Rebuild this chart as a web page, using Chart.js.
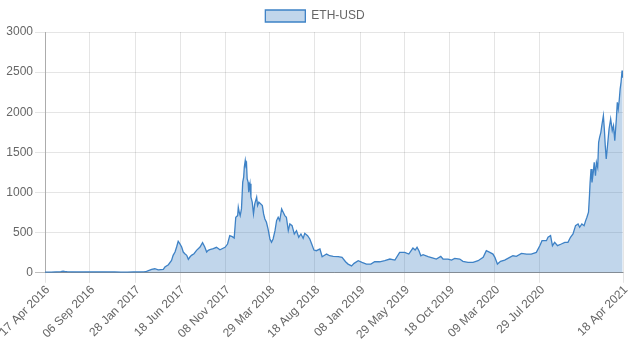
<!DOCTYPE html>
<html lang="en">
<head>
  <meta charset="UTF-8" />
  <title>ETH-USD</title>
  <script src="https://cdn.jsdelivr.net/npm/chart.js"></script>
  <style>
    html, body { margin: 0; padding: 0; background: #fff; }
    #wrap { width: 630px; height: 354px; }
  </style>
</head>
<body>
  <div id="wrap"><canvas id="ethChart"></canvas></div>

  <script>
    // day offsets from 17 Apr 2016 and closing price
    const startDate = '2016-04-17';
    const dayOffsets = [
      0, 20, 35, 50, 57, 62, 70, 85, 100, 120, 140, 160, 180, 200, 220, 240, 260, 280, 300, 315,
      321, 337, 347, 358, 374, 379, 390, 400, 405, 411, 416, 421, 426, 432, 437, 442, 448, 453, 458, 463,
      471, 479, 490, 498, 505, 511, 516, 521, 532, 542, 553, 569, 577, 584, 592, 598, 603, 609, 611, 614,
      617, 621, 625, 628, 630, 633, 635, 637, 639, 642, 644, 648, 651, 655, 659, 663, 669, 672, 676, 682,
      687, 691, 695, 700, 705, 711, 716, 721, 727, 732, 737, 742, 748, 753, 758, 763, 769, 774, 781, 788,
      795, 802, 809, 816, 821, 830, 837, 843, 850, 858, 869, 876, 890, 900, 911, 927, 939, 950, 958, 969,
      977, 990, 1002, 1016, 1030, 1042, 1058, 1074, 1090, 1106, 1121, 1137, 1150, 1163, 1170, 1176, 1182, 1188, 1195, 1211,
      1227, 1237, 1251, 1258, 1274, 1285, 1295, 1311, 1321, 1337, 1353, 1369, 1385, 1395, 1406, 1416, 1422, 1430, 1440, 1453,
      1469, 1479, 1490, 1506, 1522, 1537, 1553, 1564, 1571, 1585, 1590, 1598, 1604, 1611, 1620, 1632, 1643, 1653, 1661, 1669,
      1677, 1685, 1690, 1697, 1704, 1709, 1713, 1718, 1721, 1723, 1726, 1729, 1733, 1736, 1740, 1743, 1747, 1750, 1753, 1757,
      1760, 1765, 1768, 1771, 1774, 1778, 1783, 1788, 1793, 1797, 1801, 1806, 1809, 1812, 1815, 1818, 1821, 1824, 1826
    ];
    const prices = [
      8, 9, 12, 14, 20, 16, 13, 12, 11, 11, 12, 12, 12, 11, 10, 8, 8, 10, 11, 13,
      17, 42, 50, 37, 42, 71, 100, 154, 217, 258, 321, 392, 362, 321, 258, 237, 217, 167, 196, 217,
      237, 279, 321, 375, 321, 258, 279, 287, 300, 317, 287, 317, 358, 462, 450, 433, 692, 712, 817, 754,
      712, 796, 1129, 1192, 1317, 1400, 1337, 1358, 1171, 1129, 1004, 1108, 942, 879, 733, 858, 942, 837, 879, 858,
      837, 733, 671, 629, 546, 421, 379, 421, 525, 650, 692, 650, 796, 754, 712, 692, 525, 608, 587, 483,
      525, 442, 483, 429, 492, 462, 421, 358, 283, 275, 296, 200, 233, 212, 204, 200, 192, 137, 108, 85,
      117, 150, 129, 108, 108, 137, 137, 150, 171, 158, 254, 254, 233, 308, 283, 317, 275, 212, 225, 200,
      183, 171, 204, 171, 171, 158, 179, 171, 142, 129, 129, 150, 192, 275, 254, 233, 192, 108, 142, 158,
      192, 212, 204, 242, 233, 233, 254, 337, 400, 400, 442, 462, 337, 379, 337, 358, 379, 379, 442, 483,
      587, 608, 567, 608, 587, 650, 692, 754, 958, 1125, 1292, 1125, 1250, 1375, 1208, 1375, 1312, 1625, 1687, 1750,
      1833, 1958, 1792, 1583, 1417, 1583, 1792, 1917, 1771, 1833, 1646, 1917, 2125, 2042, 2146, 2292, 2380, 2520, 2430
    ];
    const tickLabels = [
      '17 Apr 2016', '06 Sep 2016', '28 Jan 2017', '18 Jun 2017', '08 Nov 2017', '29 Mar 2018', '18 Aug 2018',
      '08 Jan 2019', '29 May 2019', '18 Oct 2019', '09 Mar 2020', '29 Jul 2020', '18 Apr 2021'
    ];

    const dayMs = 86400000;
    const t0 = Date.parse(startDate + 'T00:00:00Z');
    const tickDays = tickLabels.map(s => Math.round((Date.parse(s + ' UTC') - t0) / dayMs));
    const labelFor = {};
    tickDays.forEach((d, i) => { labelFor[d] = tickLabels[i]; });

    const points = dayOffsets.map((d, i) => ({ x: d, y: prices[i] }));

    Chart.defaults.font.family = "'Liberation Sans', Arial, sans-serif";
    Chart.defaults.font.size = 12;
    Chart.defaults.color = '#666';

    new Chart(document.getElementById('ethChart'), {
      type: 'line',
      data: {
        datasets: [{
          label: 'ETH-USD',
          data: points,
          borderColor: 'rgb(62,130,198)',
          backgroundColor: 'rgba(50,120,190,0.3)',
          borderWidth: 1.3,
          pointRadius: 0,
          tension: 0,
          fill: 'origin'
        }]
      },
      options: {
        responsive: true,
        maintainAspectRatio: false,
        animation: false,
        layout: { padding: { right: 0, bottom: 12 } },
        plugins: {
          legend: {
            labels: { boxWidth: 40, boxHeight: 12, padding: 10 }
          },
          tooltip: { enabled: false }
        },
        scales: {
          x: {
            type: 'linear',
            min: 0,
            max: tickDays[tickDays.length - 1],
            afterBuildTicks: axis => { axis.ticks = tickDays.map(v => ({ value: v })); },
            afterFit: axis => { axis.paddingLeft = 45; axis.paddingRight = 7; },
            ticks: {
              autoSkip: false,
              minRotation: 45,
              maxRotation: 45,
              padding: 0,
              labelOffset: 3,
              callback: v => labelFor[v] || ''
            },
            grid: { color: 'rgba(0,0,0,0.1)', tickLength: 10 },
            border: { color: 'rgba(0,0,0,0.25)' }
          },
          y: {
            min: 0,
            max: 3000,
            ticks: { stepSize: 500, padding: 2, callback: v => String(v) },
            grid: {
              color: ctx => ctx.tick && ctx.tick.value === 0 ? 'rgba(0,0,0,0.25)' : 'rgba(0,0,0,0.1)',
              tickLength: 10
            },
            border: { color: 'rgba(0,0,0,0.25)' }
          }
        }
      }
    });
  </script>
</body>
</html>
